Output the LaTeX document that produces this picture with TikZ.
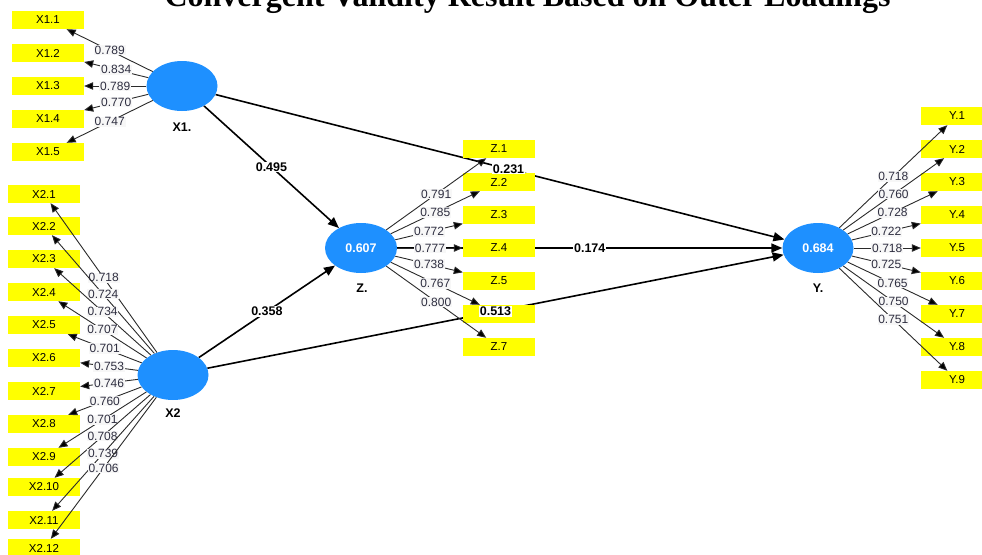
\documentclass[tikz,border=0pt]{standalone}
\usepackage{fontspec}
\setmainfont{Liberation Sans}
\newfontfamily\titlefont{Liberation Serif}
\usetikzlibrary{shapes.geometric,arrows.meta}
\pgfdeclarelayer{background}
\pgfsetlayers{background,main}
\definecolor{lvblue}{HTML}{1E90FF}
\definecolor{indyellow}{HTML}{FFFF00}
\definecolor{linegray}{HTML}{2A2A2A}
\definecolor{lblbg}{HTML}{F7F7F7}
\definecolor{lbltext}{HTML}{2E2E40}
\tikzset{
  lv/.style={ellipse, fill=lvblue, minimum width=71pt, minimum height=50pt, inner sep=0pt,
    text=white, font=\bfseries\fontsize{12.5}{14}\selectfont},
  ind/.style={rectangle, fill=indyellow, minimum width=72pt, minimum height=18pt, inner sep=0pt,
    font=\fontsize{11.5}{13}\selectfont},
  load/.style={draw=linegray, line width=0.9pt, -{Triangle[length=9pt,width=7.5pt,fill=black]}},
  struct/.style={draw=black, line width=1.6pt, -{Triangle[length=11pt,width=9pt]}},
  lbl/.style={fill=lblbg, inner sep=0.8pt, text=lbltext, font=\fontsize{12}{13}\selectfont, midway},
  slbl/.style={fill=white, inner sep=0.8pt, font=\bfseries\fontsize{12.5}{14}\selectfont, midway},
  lvname/.style={font=\bfseries\fontsize{12.5}{14}\selectfont},
  titlestyle/.style={font=\titlefont\bfseries\fontsize{32}{38}\selectfont, anchor=base, inner sep=0pt}
}
\begin{document}
\begin{tikzpicture}[x=1pt,y=-1pt]
\useasboundingbox (0,0) rectangle (982,554);
\clip (0,0) rectangle (982,554);
\node[titlestyle] (title) at (527.5,6) {Convergent Validity Result Based on Outer Loadings};

% latent variables
\node[lv] (x1) at (182,86) {};
\node[lv] (x2) at (173,375) {};
\node[lv, minimum width=72pt] (z) at (361,248) {0.607};
\node[lv] (y) at (818,248) {0.684};
\node[lvname] (x1n) at (182,127) {X1.};
\node[lvname] (x2n) at (173,413) {X2};
\node[lvname] (zn) at (362,288) {Z.};
\node[lvname] (yn) at (818,288) {Y.};

% indicators
\foreach \i/\yy in {1/20,2/53,3/86,4/119,5/152}
  \node[ind] (x1-\i) at (48,\yy) {X1.\i};
\foreach \i/\yy in {1/194,2/226,3/259,4/292,5/325,6/358,7/391,8/424,9/457,10/487,11/520,12/548}
  \node[ind] (x2-\i) at (44,\yy) {X2.\i};
\foreach \i/\yy in {1/149,2/182,3/215,4/248,5/281,7/347}
  \node[ind] (z-\i) at (499,\yy) {Z.\i};
\node[ind] (z-6) at (499,314) {};
\foreach \i/\yy in {1/116,2/149,3/182,4/215,5/248,6/281,7/314,8/347,9/380}
  \node[ind] (y-\i) at (957,\yy) {Y.\i};

% structural paths (behind the indicators)
\begin{pgfonlayer}{background}
\draw[struct] (x1) -- (z);
\draw[struct] (x2) -- (z);
\draw[struct] (x1) -- (y);
\draw[struct] (x2) -- (y);
\draw[struct] (z) -- (y);
\end{pgfonlayer}

% outer loadings
\foreach \i/\v in {1/0.789,2/0.834,3/0.789,4/0.770,5/0.747}
  \draw[load] (x1) -- node[lbl] {\v} (x1-\i);
\foreach \i/\v in {1/0.718,2/0.724,3/0.734,4/0.707,5/0.701,6/0.753,7/0.746,8/0.760,9/0.701,10/0.708,11/0.739,12/0.706}
  \draw[load] (x2) -- node[lbl] {\v} (x2-\i);
\foreach \i/\v in {1/0.791,2/0.785,3/0.772,4/0.777,5/0.738,6/0.767,7/0.800}
  \draw[load] (z) -- node[lbl] {\v} (z-\i);
\foreach \i/\v in {1/0.718,2/0.760,3/0.728,4/0.722,5/0.718,6/0.725,7/0.765,8/0.750,9/0.751}
  \draw[load] (y) -- node[lbl] {\v} (y-\i);

% path coefficients
\path (x1) -- node[slbl] {0.495} (z);
\path (x2) -- node[slbl] {0.358} (z);
\path (x1) -- node[slbl, pos=0.515] {0.231} (y);
\path (x2) -- node[slbl] {0.513} (y);
\path (z) -- node[slbl] {0.174} (y);
\end{tikzpicture}
\end{document}
